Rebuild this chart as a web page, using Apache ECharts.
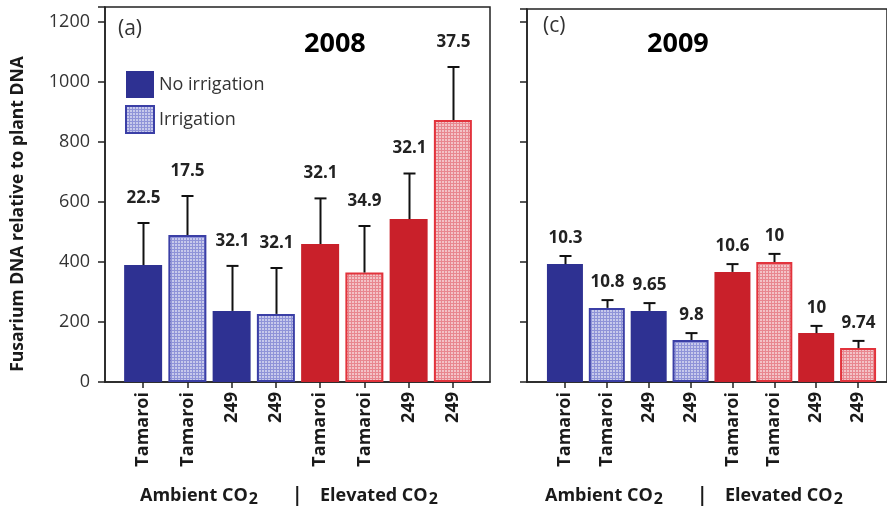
<!DOCTYPE html>
<html>
<head>
<meta charset="utf-8">
<script src="https://cdn.jsdelivr.net/npm/echarts@6/dist/echarts.min.js"></script>
<style>
  html, body { margin: 0; padding: 0; background: #fff; }
  #chart { width: 887px; height: 511px; }
</style>
</head>
<body>
<div id="chart"></div>
<script>
// Cultivars along the x axis (same order in both years)
const categories = ['Tamaroi', 'Tamaroi', '249', '249', 'Tamaroi', 'Tamaroi', '249', '249'];
// Irrigation treatment per bar, and CO2 environment per bar
const irrigated = [false, true, false, true, false, true, false, true];
const co2Group = ['ambient', 'ambient', 'ambient', 'ambient', 'elevated', 'elevated', 'elevated', 'elevated'];

// 2008: means, upper end of error bars, annotation above each bar
const mean2008 = [390, 490, 237, 227, 460, 365, 543, 873];
const upper2008 = [530, 620, 387, 380, 612, 520, 695, 1050];
const notes2008 = ['22.5', '17.5', '32.1', '32.1', '32.1', '34.9', '32.1', '37.5'];

// 2009
const mean2009 = [393, 247, 237, 140, 367, 400, 163, 113];
const upper2009 = [420, 273, 263, 163, 393, 427, 187, 137];
const notes2009 = ['10.3', '10.8', '9.65', '9.8', '10.6', '10', '10', '9.74'];

const yTicks = [0, 200, 400, 600, 800, 1000, 1200];

const FONT = '"Open Sans"';
const BLUE = '#2e3192';
const RED = '#c9202a';
const BLUE_EDGE = '#3b3fa6';
const RED_EDGE = '#e2333c';

// small repeating dot tile used for the irrigated bars
function makeDots(lineColor) {
  const c = document.createElement('canvas');
  c.width = 3; c.height = 3;
  const g = c.getContext('2d');
  g.fillStyle = '#ffffff';
  g.fillRect(0, 0, 3, 3);
  g.fillStyle = lineColor;
  g.fillRect(0, 0, 3, 1);
  g.fillRect(0, 0, 1, 3);
  g.globalAlpha = 0.5;
  g.fillRect(1, 1, 2, 2);
  return { image: c, repeat: 'repeat' };
}
const bluePattern = makeDots('#8f93d8');
const redPattern = makeDots('#e8878f');

function barData(means, wantIrrigated) {
  return means.map((v, i) => {
    if (irrigated[i] !== wantIrrigated) return '-';
    const amb = co2Group[i] === 'ambient';
    if (wantIrrigated) {
      return { value: v, itemStyle: { color: amb ? bluePattern : redPattern, borderColor: amb ? BLUE_EDGE : RED_EDGE } };
    }
    return { value: v, itemStyle: { color: amb ? BLUE : RED } };
  });
}

function errorSeries(means, uppers, notes, axisIdx, labelGap) {
  return {
    type: 'custom',
    xAxisIndex: axisIdx,
    yAxisIndex: axisIdx,
    z: 5,
    silent: true,
    data: means.map((m, i) => [i, m, uppers[i], notes[i]]),
    renderItem: function (params, api) {
      const base = api.coord([api.value(0), api.value(1)]);
      const top = api.coord([api.value(0), api.value(2)]);
      const x = Math.round(base[0]) + 0.5;
      const capHalf = 6;
      const lineStyle = { stroke: '#111', lineWidth: 2 };
      return {
        type: 'group',
        children: [
          { type: 'line', shape: { x1: x, y1: base[1], x2: x, y2: top[1] }, style: lineStyle },
          { type: 'line', shape: { x1: x - capHalf, y1: top[1], x2: x + capHalf, y2: top[1] }, style: lineStyle },
          {
            type: 'text',
            style: {
              text: notes[params.dataIndex],
              x: x, y: top[1] - labelGap,
              align: 'center', verticalAlign: 'middle',
              font: 'bold 17px ' + FONT, fill: '#222'
            }
          }
        ]
      };
    }
  };
}

const frameAxisY = (showLabels, max) => ({
  type: 'value', min: 0, max: max, interval: 200,
  axisLine: { show: true, lineStyle: { color: '#222', width: 1.5 } },
  axisTick: { show: true, length: 7, lineStyle: { color: '#222', width: 1.5 } },
  axisLabel: {
    show: showLabels, fontFamily: FONT, fontSize: 18, color: '#333', margin: 15,
    formatter: (v) => (yTicks.indexOf(v) >= 0 ? String(v) : '')
  },
  splitLine: { show: false }
});
const hiddenY = (max) => ({
  type: 'value', min: 0, max: max, show: false, splitLine: { show: false }
});
const frameAxisX = () => ({
  type: 'value', min: 0, max: 1,
  axisLine: { show: true, onZero: false, lineStyle: { color: '#222', width: 1.5 } },
  axisTick: { show: false }, axisLabel: { show: false }, splitLine: { show: false }
});
const catAxisX = () => ({
  type: 'category', data: categories,
  axisLine: { show: false },
  axisTick: { show: true, alignWithLabel: true, length: 6, lineStyle: { color: '#222', width: 1.5 } },
  axisLabel: { rotate: 90, fontFamily: FONT, fontWeight: 'bold', fontSize: 18, color: '#1a1a1a', margin: 10, interval: 0 }
});

const MAX_L = 1250;
const MAX_R = (382 - 9) / 0.3;

function groupLabel(text, cx) {
  return {
    type: 'text', left: cx, top: 487,
    style: {
      text: '{t|' + text + '}{s|2}',
      rich: {
        t: { font: 'bold 18px ' + FONT, fill: '#1a1a1a' },
        s: { font: 'bold 16px ' + FONT, fill: '#1a1a1a', padding: [6, 0, 0, 1] }
      },
      align: 'center'
    }
  };
}

const chart = echarts.init(document.getElementById('chart'), null, { renderer: 'canvas' });
chart.setOption({
  animation: false,
  backgroundColor: '#fff',
  grid: [
    { left: 105, top: 7, width: 385, height: 375, show: true, borderColor: '#222', borderWidth: 1.5, backgroundColor: 'transparent' },
    { left: 121, top: 7, width: 354, height: 375 },
    { left: 527, top: 9, width: 367, height: 373, show: true, borderColor: '#222', borderWidth: 1.5, backgroundColor: 'transparent' },
    { left: 544, top: 9, width: 335, height: 373 }
  ],
  xAxis: [
    Object.assign(frameAxisX(), { gridIndex: 0 }),
    Object.assign(catAxisX(), { gridIndex: 1 }),
    Object.assign(frameAxisX(), { gridIndex: 2 }),
    Object.assign(catAxisX(), { gridIndex: 3 })
  ],
  yAxis: [
    Object.assign(frameAxisY(true, MAX_L), { gridIndex: 0 }),
    Object.assign(hiddenY(MAX_L), { gridIndex: 1 }),
    Object.assign(frameAxisY(false, MAX_R), { gridIndex: 2 }),
    Object.assign(hiddenY(MAX_R), { gridIndex: 3 })
  ],
  legend: {
    orient: 'vertical', left: 120, top: 66,
    itemWidth: 28, itemHeight: 27, itemGap: 7, icon: 'rect',
    textStyle: { fontFamily: FONT, fontSize: 18, color: '#333' },
    data: ['No irrigation', 'Irrigation']
  },
  series: [
    {
      name: 'No irrigation', type: 'bar', xAxisIndex: 1, yAxisIndex: 1,
      barWidth: 38, barGap: '-100%', itemStyle: { color: BLUE },
      data: barData(mean2008, false)
    },
    {
      name: 'Irrigation', type: 'bar', xAxisIndex: 1, yAxisIndex: 1,
      barWidth: 38, barGap: '-100%', itemStyle: { color: bluePattern, borderColor: BLUE_EDGE, borderWidth: 2 },
      data: barData(mean2008, true)
    },
    errorSeries(mean2008, upper2008, notes2008, 1, 25),
    {
      name: 'No irrigation', type: 'bar', xAxisIndex: 3, yAxisIndex: 3,
      barWidth: 36, barGap: '-100%', itemStyle: { color: BLUE },
      data: barData(mean2009, false)
    },
    {
      name: 'Irrigation', type: 'bar', xAxisIndex: 3, yAxisIndex: 3,
      barWidth: 36, barGap: '-100%', itemStyle: { color: bluePattern, borderColor: BLUE_EDGE, borderWidth: 2 },
      data: barData(mean2009, true)
    },
    errorSeries(mean2009, upper2009, notes2009, 3, 18)
  ],
  graphic: [
    {
      type: 'text', x: 18, y: 214, rotation: Math.PI / 2,
      style: { text: 'Fusarium DNA relative to plant DNA', font: 'bold 17.5px ' + FONT, fill: '#1a1a1a', align: 'center', verticalAlign: 'middle' }
    },
    { type: 'text', left: 118, top: 19, style: { text: '(a)', font: '21px ' + FONT, fill: '#333' } },
    { type: 'text', left: 543, top: 16, style: { text: '(c)', font: '21px ' + FONT, fill: '#333' } },
    { type: 'text', left: 304, top: 31, style: { text: '2008', font: 'bold 27px ' + FONT, fill: '#000' } },
    { type: 'text', left: 647, top: 31, style: { text: '2009', font: 'bold 27px ' + FONT, fill: '#000' } },
    groupLabel('Ambient CO', 140),
    { type: 'text', left: 292, top: 486, style: { text: '|', font: 'bold 19px ' + FONT, fill: '#1a1a1a' } },
    groupLabel('Elevated CO', 320),
    groupLabel('Ambient CO', 545),
    { type: 'text', left: 697, top: 486, style: { text: '|', font: 'bold 19px ' + FONT, fill: '#1a1a1a' } },
    groupLabel('Elevated CO', 725)
  ]
});
</script>
</body>
</html>
